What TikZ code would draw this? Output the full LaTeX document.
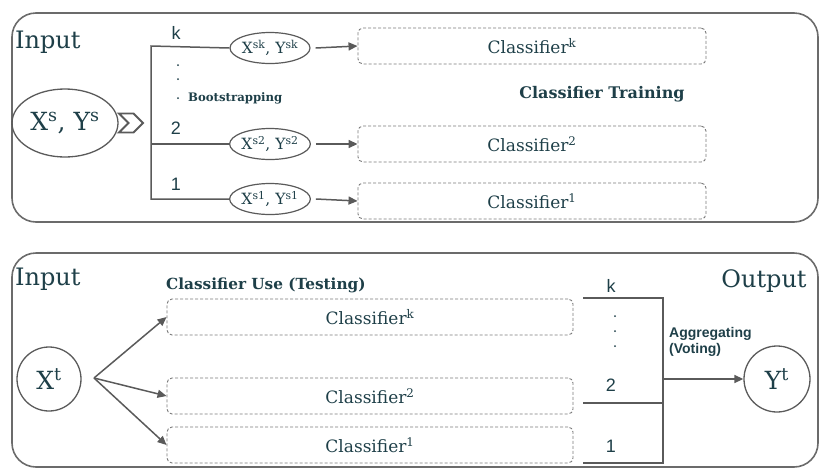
\documentclass[tikz,border=0pt]{standalone}
\usepackage{fontspec}
\setmainfont{DejaVu Serif}
\newfontfamily\sansf{Liberation Sans}
\usetikzlibrary{arrows.meta,shapes.geometric,shapes.symbols}
\definecolor{txt}{HTML}{1E3F48}
\definecolor{ln}{HTML}{5A5A5A}
\definecolor{dsh}{HTML}{7A7A7A}
\tikzset{
  panel/.style={draw=ln!90, line width=1.6pt, rounded corners=24pt},
  clsbox/.style={draw=dsh, dash pattern=on 3pt off 2pt, line width=0.9pt, rounded corners=5pt, minimum height=36pt, text=txt, font=\fontsize{17}{18}\selectfont},
  smell/.style={ellipse, draw=ln, line width=1.2pt, minimum width=80pt, minimum height=31pt, inner sep=0pt, text=txt, font=\fontsize{15.5}{16}\selectfont},
  conn/.style={draw=ln, line width=1.5pt},
  arr/.style={draw=ln, line width=1.5pt, -{Triangle[length=9pt,width=8pt]}},
  numlab/.style={text=txt, font=\sansf\fontsize{18}{19}\selectfont, inner sep=0pt},
  biglab/.style={text=txt, font=\fontsize{24}{26}\selectfont, inner sep=0pt},
  boldlab/.style={text=txt, font=\bfseries\fontsize{16}{17}\selectfont, inner sep=0pt},
  dotn/.style={circle, fill=txt, inner sep=0pt, minimum size=2pt},
  bigshape/.style={draw=ln, line width=1.3pt, inner sep=0pt, text=txt, font=\fontsize{25}{27}\selectfont},
}
\newcommand{\sps}[1]{\textsuperscript{#1}}
\begin{document}
\begin{tikzpicture}[x=1pt,y=-1pt]
\useasboundingbox (0,0) rectangle (820,472);
% panels
\draw[panel] (12,13) rectangle (818,222);
\draw[panel] (12,253) rectangle (818,467);
% ---- top panel ----
\node[biglab, anchor=west] (in1) at (15,42) {Input};
\node[bigshape, ellipse, minimum width=106pt, minimum height=68pt] (xs) at (65,123) {X\sps{s}, Y\sps{s}};
\node[signal, signal to=east, signal from=west, draw=ln, line width=1.8pt, minimum width=24pt, minimum height=19pt, inner sep=0pt, signal pointer angle=90] (chev) at (131,123) {};
\coordinate (bt) at (151,46);
\coordinate (bm) at (151,144);
\coordinate (bb) at (151,199);
\node[smell] (ek) at (270,48) {X\sps{sk}, Y\sps{sk}};
\node[smell] (e2) at (270,144) {X\sps{s2}, Y\sps{s2}};
\node[smell] (e1) at (270,199) {X\sps{s1}, Y\sps{s1}};
\draw[conn] (ek.west) -- (bt) -- (bb) -- (e1.west);
\draw[conn] (bm) -- (e2.west);
\node[numlab] (lk) at (176,33) {k};
\node[numlab] (l2) at (176,128) {2};
\node[numlab] (l1) at (176,184) {1};
\node[dotn] (d1) at (178,65) {};
\node[dotn] (d2) at (178,79) {};
\node[dotn] (d3) at (178,98) {};
\node[boldlab, anchor=west, font=\bfseries\fontsize{11.7}{12}\selectfont] (boot) at (188,98) {Bootstrapping};
\node[clsbox, minimum width=348pt] (ck) at (532,46) {Classifier\sps{k}};
\node[clsbox, minimum width=348pt] (c2) at (532,144) {Classifier\sps{2}};
\node[clsbox, minimum width=348pt] (c1) at (532,201) {Classifier\sps{1}};
\draw[arr] ([xshift=5pt]ek.east) -- (ck.west);
\draw[arr] ([xshift=5pt]e2.east) -- (c2.west);
\draw[arr] ([xshift=5pt]e1.east) -- (c1.west);
\node[boldlab] (ct) at (602,94) {Classifier Training};
% ---- bottom panel ----
\node[biglab, anchor=west] (in2) at (15,279) {Input};
\node[boldlab, anchor=west, font=\bfseries\fontsize{15.3}{16}\selectfont] (cu) at (166,285) {Classifier Use (Testing)};
\node[bigshape, circle, minimum size=64pt] (xt) at (49,379) {X\sps{t}};
\node[clsbox, minimum width=406pt] (tk) at (370,317) {Classifier\sps{k}};
\node[clsbox, minimum width=406pt] (t2) at (370,396) {Classifier\sps{2}};
\node[clsbox, minimum width=406pt] (t1) at (370,445) {Classifier\sps{1}};
\coordinate (xo) at (94,378);
\draw[arr] (xo) -- (tk.west);
\draw[arr] (xo) -- (t2.west);
\draw[arr] (xo) -- (t1.west);
\coordinate (ok) at (583,298);
\coordinate (o2) at (583,403);
\coordinate (o1) at (583,463);
\coordinate (vk) at (663,298);
\coordinate (v2) at (663,403);
\coordinate (v1) at (663,463);
\coordinate (vm) at (663,379);
\draw[conn] (ok) -- (vk) -- (v1) -- (o1);
\draw[conn] (o2) -- (v2);
\node[numlab] (mk) at (611,286) {k};
\node[numlab] (m2) at (611,385) {2};
\node[numlab] (m1) at (611,446) {1};
\node[dotn] (e1d) at (615,316) {};
\node[dotn] (e2d) at (615,331) {};
\node[dotn] (e3d) at (615,346) {};
\node[bigshape, circle, minimum size=66pt] (yt) at (777,379) {Y\sps{t}};
\draw[arr] (vm) -- (yt.west);
\node[biglab] (out) at (764,281) {Output};
\node[text=txt, font=\sansf\bfseries\fontsize{14}{16}\selectfont, align=left, anchor=north west, inner sep=0pt] (agg) at (669,327) {Aggregating\\(Voting)};
\end{tikzpicture}
\end{document}
